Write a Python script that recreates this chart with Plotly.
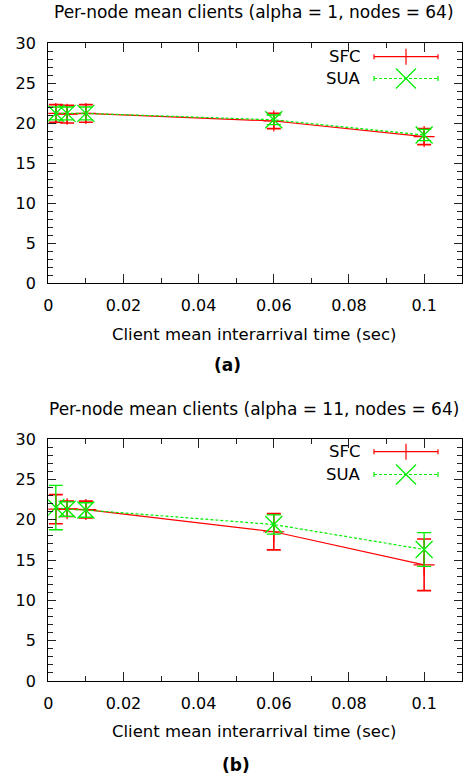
import plotly.graph_objects as go

# ---------------- data ----------------
x_time = [0.002, 0.005, 0.01, 0.06, 0.1]

sfc_a = [21.2, 21.1, 21.2, 20.25, 18.3]
sfc_a_err = [1.1, 1.1, 1.1, 0.95, 1.0]
sua_a = [21.2, 21.2, 21.2, 20.4, 18.5]
sua_a_err = [0.8, 0.8, 0.8, 0.6, 0.7]

sfc_b = [21.3, 21.35, 21.25, 18.5, 14.4]
sfc_b_err = [1.8, 0.95, 1.05, 2.25, 3.2]
sua_b = [21.5, 21.3, 21.2, 19.4, 16.3]
sua_b_err = [2.75, 0.9, 0.9, 1.2, 2.1]

titles = ["Per-node mean clients (alpha = 1, nodes = 64)",
          "Per-node mean clients (alpha = 11, nodes = 64)"]
panel_labels = ["(a)", "(b)"]
x_title = "Client mean interarrival time (sec)"
series_names = ["SFC", "SUA"]

# ---------------- layout helpers ----------------
W, H = 468, 779
FONT = "DejaVu Sans"
RED = "#ff0000"
GREEN = "#00ee00"


def px(x):
    return x / W


def py(y):
    return 1 - y / H


panels = [
    dict(sfc=sfc_a, sfc_err=sfc_a_err, sua=sua_a, sua_err=sua_a_err,
         ytop=43, ybot=283, title_y=12, xt_y=334, lab_y=365, lab_x=227,
         leg_y=(56.7, 78.5)),
    dict(sfc=sfc_b, sfc_err=sfc_b_err, sua=sua_b, sua_err=sua_b_err,
         ytop=439, ybot=681, title_y=409, xt_y=731, lab_y=765, lab_x=236,
         leg_y=(451.7, 474.5)),
]

XL, XR = 48.3, 461.7

fig = go.Figure()
shapes = []
annotations = []

for i, p in enumerate(panels):
    n = "" if i == 0 else str(i + 1)
    xa, ya = "x" + n, "y" + n
    fig.add_trace(go.Scatter(
        x=x_time, y=p["sfc"], xaxis=xa, yaxis=ya, name=series_names[0],
        mode="lines+markers",
        line=dict(color=RED, width=1.2),
        marker=dict(symbol="cross-thin-open", size=15,
                    line=dict(color=RED, width=1.2), color=RED),
        error_y=dict(type="data", array=p["sfc_err"], visible=True,
                     color=RED, thickness=1.6, width=7),
        showlegend=False))
    fig.add_trace(go.Scatter(
        x=x_time, y=p["sua"], xaxis=xa, yaxis=ya, name=series_names[1],
        mode="lines+markers",
        line=dict(color=GREEN, width=1.2, dash="3px,2px"),
        marker=dict(symbol="x-thin-open", size=17,
                    line=dict(color=GREEN, width=1.3), color=GREEN),
        error_y=dict(type="data", array=p["sua_err"], visible=True,
                     color=GREEN, thickness=1.3, width=7),
        showlegend=False))

    common = dict(showline=True, linecolor="black", linewidth=1.3,
                  mirror="ticks", showgrid=False, zeroline=False,
                  ticks="inside", tickwidth=1, tickcolor="#222",
                  tickfont=dict(family=FONT, size=16, color="black"),
                  automargin=False)
    xaxis = dict(common, domain=[px(XL), px(XR)], range=[0, 0.11],
                 tick0=0, dtick=0.02, ticklen=9, anchor=ya,
                 ticklabelstandoff=8,
                 minor=dict(dtick=0.01, ticklen=5, ticks="inside",
                            tickcolor="#222", tickwidth=1, showgrid=False))
    yaxis = dict(common, domain=[py(p["ybot"]), py(p["ytop"])],
                 range=[0, 30], tick0=0, dtick=5, ticklen=8, anchor=xa,
                 ticklabelstandoff=8,
                 minor=dict(dtick=1, ticklen=5, ticks="inside",
                            tickcolor="#222", tickwidth=1, showgrid=False))
    fig.update_layout(**{"xaxis" + n: xaxis, "yaxis" + n: yaxis})

    # titles & labels
    annotations.append(dict(text=titles[i], x=px(254.5), y=py(p["title_y"]),
                            xref="paper", yref="paper", showarrow=False,
                            xanchor="center", yanchor="middle",
                            font=dict(family=FONT, size=17, color="black")))
    annotations.append(dict(text=x_title, x=px(254.5), y=py(p["xt_y"]),
                            xref="paper", yref="paper", showarrow=False,
                            xanchor="center", yanchor="middle",
                            font=dict(family=FONT, size=16.5, color="black")))
    annotations.append(dict(text="<b>" + panel_labels[i] + "</b>",
                            x=px(p["lab_x"]), y=py(p["lab_y"]),
                            xref="paper", yref="paper", showarrow=False,
                            xanchor="center", yanchor="middle",
                            font=dict(family=FONT, size=17, color="black")))

    # legend (gnuplot style: text on the left, sample on the right)
    lx0, lx1, lxc = 374, 438, 406
    for j, (name, col) in enumerate(zip(series_names, [RED, GREEN])):
        ly = p["leg_y"][j]
        annotations.append(dict(text=name, x=px(363), y=py(ly),
                                xref="paper", yref="paper", showarrow=False,
                                xanchor="right", yanchor="middle",
                                font=dict(family=FONT, size=16.5,
                                          color="black")))
        dash = "solid" if j == 0 else "3px,2px"
        shapes.append(dict(type="line", xref="paper", yref="paper",
                           x0=px(lx0), x1=px(lx1), y0=py(ly), y1=py(ly),
                           line=dict(color=col, width=1.2, dash=dash)))
        for cx in (lx0, lx1):
            shapes.append(dict(type="line", xref="paper", yref="paper",
                               x0=px(cx), x1=px(cx), y0=py(ly - 2.5),
                               y1=py(ly + 2.5),
                               line=dict(color=col, width=1.2)))
        if j == 0:
            shapes.append(dict(type="line", xref="paper", yref="paper",
                               x0=px(lxc), x1=px(lxc), y0=py(ly - 8),
                               y1=py(ly + 8), line=dict(color=col, width=1.2)))
        else:
            shapes.append(dict(type="line", xref="paper", yref="paper",
                               x0=px(lxc - 10), x1=px(lxc + 10),
                               y0=py(ly - 10), y1=py(ly + 10),
                               line=dict(color=col, width=1.2)))
            shapes.append(dict(type="line", xref="paper", yref="paper",
                               x0=px(lxc - 10), x1=px(lxc + 10),
                               y0=py(ly + 10), y1=py(ly - 10),
                               line=dict(color=col, width=1.2)))

fig.update_layout(
    width=W, height=H, template="none",
    margin=dict(l=0, r=0, t=0, b=0),
    paper_bgcolor="white", plot_bgcolor="white",
    showlegend=False, shapes=shapes, annotations=annotations,
    font=dict(family=FONT, size=16, color="black"),
)

fig.write_html("out.html",
               config={"displayModeBar": False},
               post_script="document.body.style.margin='0';"
                           "document.body.style.overflow='hidden';")
